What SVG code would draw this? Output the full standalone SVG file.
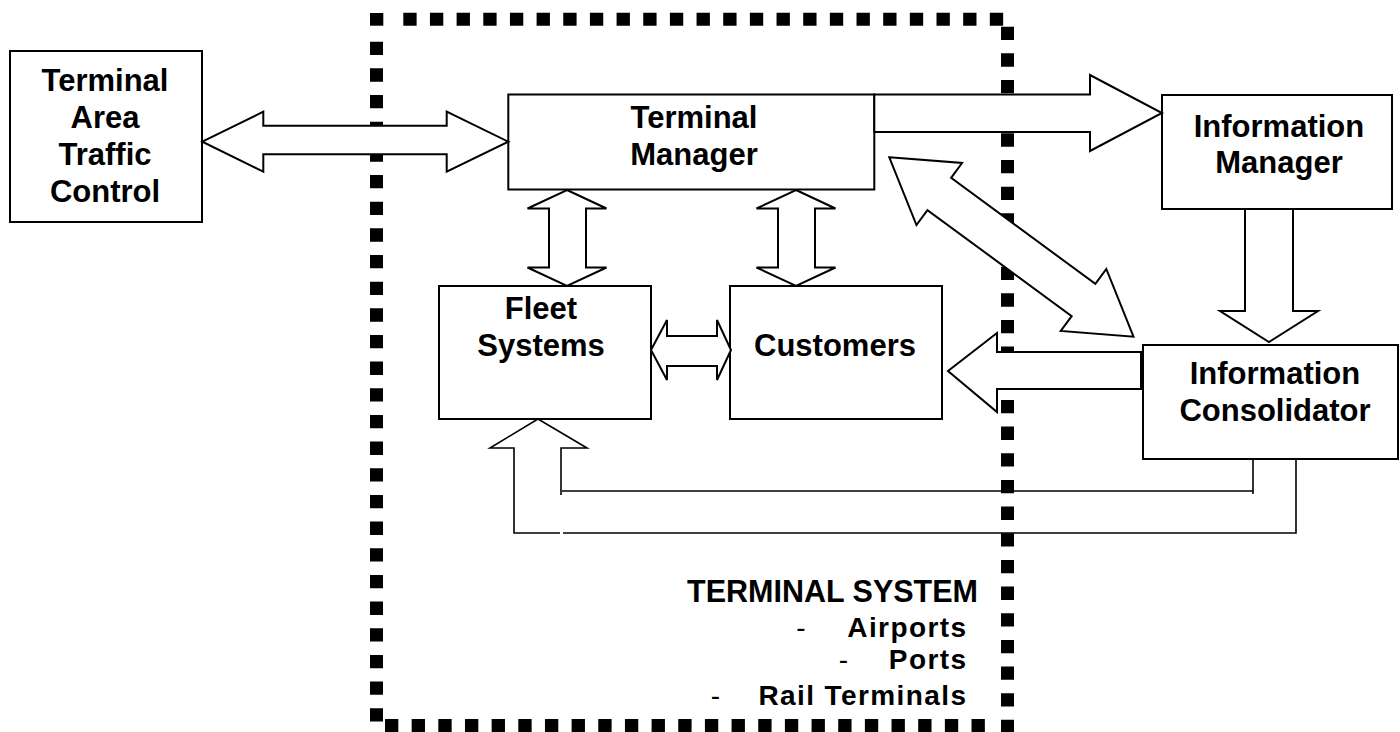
<svg xmlns="http://www.w3.org/2000/svg" width="1400" height="732" viewBox="0 0 1400 732">
<style>
.box{fill:#fff;stroke:#000;stroke-width:2}
.arr{fill:#fff;stroke:#000;stroke-width:2;stroke-linejoin:miter}
.ln{fill:none;stroke:#000;stroke-width:1.6}
.dash{fill:none;stroke:#000;stroke-width:13;stroke-dasharray:13.33 13.33}
.t{font-family:"Liberation Sans",Arial,Helvetica,sans-serif;font-weight:bold;font-size:31px;text-anchor:middle;fill:#000}
.ts{font-family:"Liberation Sans",Arial,Helvetica,sans-serif;font-weight:bold;font-size:30.5px;text-anchor:end;fill:#000}
.it{font-family:"Liberation Sans",Arial,Helvetica,sans-serif;font-weight:bold;font-size:28px;letter-spacing:1.4px;text-anchor:end;fill:#000}
.hy{font-family:"Liberation Sans",Arial,Helvetica,sans-serif;font-weight:normal;font-size:28px;text-anchor:middle;fill:#000}
</style>
<rect width="1400" height="732" fill="#fff"/>
<g id="terminal-system-border">
<rect x="370" y="13" width="13.3" height="12.7" fill="#000"/>
<line class="dash" x1="403.3" y1="19.3" x2="1003.3" y2="19.3"/>
<line class="dash" x1="1007.5" y1="26.7" x2="1007.5" y2="733.3"/>
<line class="dash" x1="376.5" y1="41.7" x2="376.5" y2="722"/>
<line class="dash" x1="385" y1="725.5" x2="985" y2="725.5"/>
<text class="ts" x="978" y="601.5">TERMINAL SYSTEM</text>
<text class="hy" x="801" y="636.7">-</text>
<text class="it" x="967.4" y="636.7">Airports</text>
<text class="hy" x="843.5" y="669">-</text>
<text class="it" x="967.4" y="669">Ports</text>
<text class="hy" x="715.5" y="705">-</text>
<text class="it" x="967.4" y="705">Rail Terminals</text>
</g>
<g id="tatc">
<rect class="box" x="10" y="51" width="192" height="171"/>
<text class="t" x="105" y="91">Terminal</text>
<text class="t" x="105" y="128">Area</text>
<text class="t" x="105" y="165">Traffic</text>
<text class="t" x="105" y="202">Control</text>
</g>
<g id="terminal-manager">
<rect class="box" x="508.3" y="94.5" width="366" height="95"/>
<text class="t" x="694" y="128.3">Terminal</text>
<text class="t" x="694" y="165">Manager</text>
</g>
<g id="information-manager">
<rect class="box" x="1162" y="95" width="230" height="114"/>
<text class="t" x="1279" y="137">Information</text>
<text class="t" x="1279" y="173">Manager</text>
</g>
<g id="fleet-systems">
<rect class="box" x="439" y="286" width="212" height="133"/>
<text class="t" x="541" y="319">Fleet</text>
<text class="t" x="541" y="356">Systems</text>
</g>
<g id="customers">
<rect class="box" x="730" y="286" width="212" height="133"/>
<text class="t" x="835" y="356">Customers</text>
</g>
<g id="information-consolidator">
<rect class="box" x="1143" y="345" width="255" height="114"/>
<text class="t" x="1275" y="384">Information</text>
<text class="t" x="1275" y="421">Consolidator</text>
</g>
<g id="connectors">
<polygon class="arr" points="202.3,141.7 263.3,111.7 263.3,125.7 446.7,125.7 446.7,111.7 508.3,141.7 446.7,171.7 446.7,154.3 263.3,154.3 263.3,171.7"/>
<polygon class="arr" points="874.3,94.5 1090,94.5 1090,75 1162,113 1090,151 1090,132 874.3,132"/>
<polygon class="arr" points="1245,209 1245,311 1220,311 1269,342 1318,311 1293,311 1293,209"/>
<polygon class="arr" points="1141,352 997,352 997,333 948,371 997,412 997,389 1141,389"/>
<polygon class="arr" points="567,190 606.5,208.5 586,208.5 586,267.5 606.5,267.5 567,286 527.5,267.5 549,267.5 549,208.5 527.5,208.5"/>
<polygon class="arr" points="796,190 835.5,208.5 815,208.5 815,267.5 835.5,267.5 796,286 756.5,267.5 778,267.5 778,208.5 756.5,208.5"/>
<polygon class="arr" points="651,350 667,320 667,336 717,336 717,320 731,350 717,380 717,366 667,366 667,380"/>
<polygon class="arr" transform="translate(889.3,157.3) rotate(36.3)" points="0,0 62,-38.5 62,-20 241,-20 241,-38.5 303,0 241,38.5 241,20 62,20 62,38.5"/>
<path class="ln" d="M538,419 L490,448 L514,448 L514,533 L560,533 M563,533 L1296,533 L1296,459"/>
<path class="ln" d="M538,419 L587,448 L561,448 L561,495 M562,491 L1253,491 M1253,459 L1253,494"/>
</g>
</svg>
